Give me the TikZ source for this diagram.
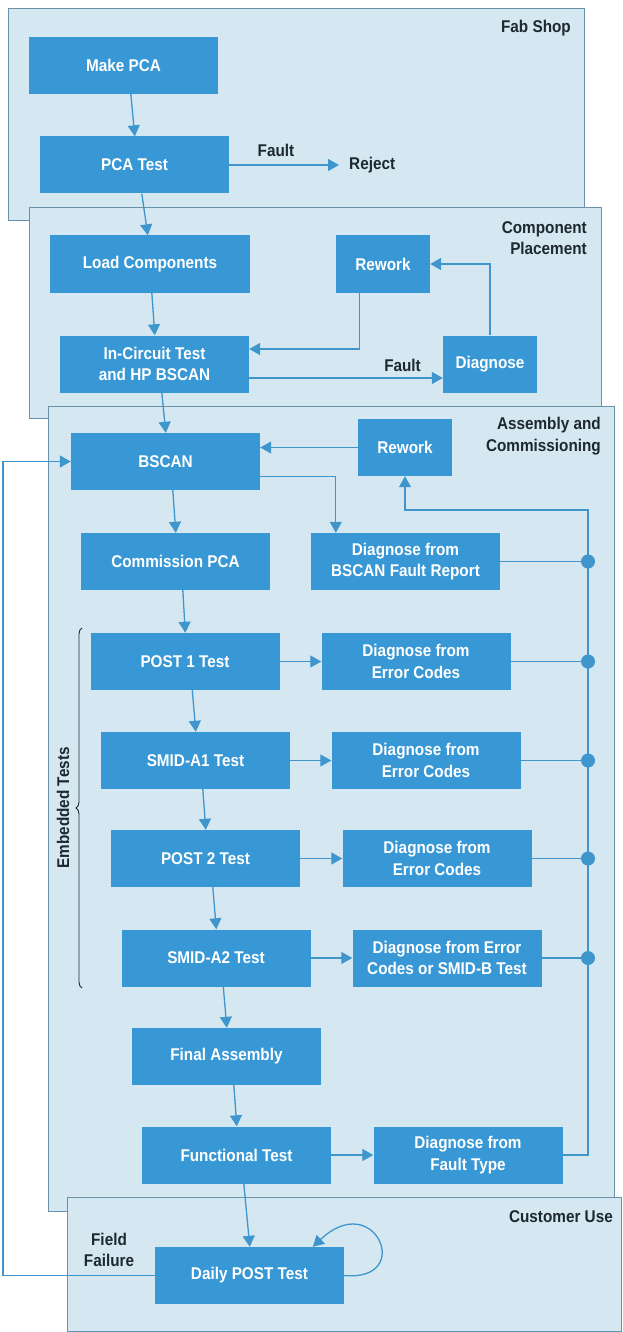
\documentclass[tikz,border=0pt]{standalone}
\usepackage{fontspec}
\setmainfont[FakeStretch=0.9]{Liberation Sans}
\usetikzlibrary{arrows.meta,decorations.pathreplacing}
\definecolor{panelfill}{RGB}{213,232,241}
\definecolor{panelline}{RGB}{105,145,170}
\definecolor{boxblue}{RGB}{56,152,214}
\definecolor{lineblue}{RGB}{62,150,205}
\definecolor{darktext}{RGB}{30,40,48}
\begin{document}
\begin{tikzpicture}[x=1pt,y=-1pt,
  panel/.style={draw=panelline,fill=panelfill,line width=0.9pt},
  box/.style={fill=boxblue,text=white,font=\fontsize{17}{21.5}\selectfont\bfseries,align=center,minimum width=189pt,minimum height=57pt,inner sep=0pt},
  smallbox/.style={box,minimum width=94pt},
  lbl/.style={text=darktext,font=\fontsize{17}{21.5}\selectfont\bfseries,inner sep=0pt},
  conn/.style={draw=lineblue,line width=1.3pt},
  arr/.style={conn,-{Triangle[length=11pt,width=12pt]}},
  dot/.style={circle,fill=lineblue,minimum size=14pt,inner sep=0pt}
]
\useasboundingbox[fill=white] (0,0) rectangle (622,1332);
% panels
\draw[panel] (8,8) rectangle (584,220);
\draw[panel] (29,207) rectangle (601,418);
\draw[panel] (48,406) rectangle (614,1211);
\draw[panel] (67,1197) rectangle (621.5,1331);
% panel labels
\node[lbl,anchor=east] (lfab) at (571,28) {Fab Shop};
\node[lbl,anchor=east,align=right] (lcomp) at (587,238) {Component\\Placement};
\node[lbl,anchor=east,align=right] (lasm) at (601,436) {Assembly and\\Commissioning};
\node[lbl,anchor=east] (lcust) at (613,1217) {Customer Use};
% boxes
\node[box] (make) at (123.5,65.5) {Make PCA};
\node[box] (pca) at (134.5,165) {PCA Test};
\node[lbl,anchor=west,inner xsep=10pt] (reject) at (339,165) {Reject};
\node[lbl] (fault1) at (276,150) {Fault};
\node[box,minimum width=200pt] (load) at (150,264) {Load Components};
\node[smallbox] (rwA) at (383,264) {Rework};
\node[box] (ict) at (154.5,364) {In-Circuit Test\\and HP BSCAN};
\node[smallbox] (diag) at (490,364) {Diagnose};
\node[lbl,anchor=east] (fault2) at (421,365) {Fault};
\node[box] (bscan) at (165.5,461.5) {BSCAN};
\node[smallbox] (rwB) at (405,447.5) {Rework};
\node[box] (comm) at (175.5,561.5) {Commission PCA};
\node[box] (dbscan) at (405.5,561.5) {Diagnose from\\BSCAN Fault Report};
\node[box] (post1) at (185,661.5) {POST 1 Test};
\node[box] (d1) at (416,661.5) {Diagnose from\\Error Codes};
\node[box] (smid1) at (195.5,760.5) {SMID-A1 Test};
\node[box] (d2) at (426,760.5) {Diagnose from\\Error Codes};
\node[box] (post2) at (205.5,858.5) {POST 2 Test};
\node[box] (d3) at (437,858.5) {Diagnose from\\Error Codes};
\node[box] (smid2) at (216,958) {SMID-A2 Test};
\node[box] (d4) at (447,958) {Diagnose from Error\\Codes or SMID-B Test};
\node[box] (final) at (226.5,1056.5) {Final Assembly};
\node[box] (func) at (236.5,1155) {Functional Test};
\node[box] (d5) at (468,1155) {Diagnose from\\Fault Type};
\node[box] (daily) at (249.5,1275.5) {Daily POST Test};
\node[lbl,align=center] (ff) at (109,1250) {Field\\Failure};
% brace
\draw[darktext,line width=0.9pt,decorate,decoration={brace,amplitude=6pt}] (82,988) -- (82,628);
\node[lbl,rotate=90] (emb) at (63,808) {Embedded Tests};
% vertical flow
\draw[arr] ([xshift=102pt]make.south west) -- ([xshift=95pt]pca.north west);
\draw[arr] ([xshift=102pt]pca.south west) -- ([xshift=98pt]load.north west);
\draw[arr] ([xshift=102pt]load.south west) -- ([xshift=95pt]ict.north west);
\draw[arr] ([xshift=102pt]ict.south west) -- ([xshift=95pt]bscan.north west);
\draw[arr] ([xshift=102pt]bscan.south west) -- ([xshift=95pt]comm.north west);
\draw[arr] ([xshift=102pt]comm.south west) -- ([xshift=95pt]post1.north west);
\draw[arr] ([xshift=102pt]post1.south west) -- ([xshift=95pt]smid1.north west);
\draw[arr] ([xshift=102pt]smid1.south west) -- ([xshift=95pt]post2.north west);
\draw[arr] ([xshift=102pt]post2.south west) -- ([xshift=95pt]smid2.north west);
\draw[arr] ([xshift=102pt]smid2.south west) -- ([xshift=95pt]final.north west);
\draw[arr] ([xshift=102pt]final.south west) -- ([xshift=95pt]func.north west);
\draw[arr] ([xshift=102pt]func.south west) -- ([xshift=95pt]daily.north west);
% fab shop
\draw[arr] (pca.east) -- (reject.west);
% component placement
\draw[arr] ([xshift=24pt]rwA.south west) |- ([yshift=15pt]ict.east);
\draw[arr] ([yshift=-14pt]ict.east) -- ([yshift=-14pt]diag.west);
\draw[arr] (diag.north) |- (rwA.east);
% assembly
\draw[arr] (rwB.west) -- (bscan.east |- rwB.west);
\draw[arr] ([yshift=-15pt]bscan.east) -| ([xshift=25pt]dbscan.north west);
\draw[arr] (post1.east) -- (d1.west);
\draw[arr] (smid1.east) -- (d2.west);
\draw[arr] (post2.east) -- (d3.west);
\draw[arr] (smid2.east) -- (d4.west);
\draw[arr] (func.east) -- (d5.west);
\coordinate (busTop) at (588,510);
\draw[arr] (d5.east) -| (busTop) -| (rwB.south);
\foreach \n in {dbscan,d1,d2,d3,d4}{
  \draw[conn] (\n.east) -- (\n.east -| busTop);
  \node[dot] at (\n.east -| busTop) {};
}
% customer use
\draw[arr] (daily.east) .. controls (415,1282) and (375,1188) .. ([xshift=158pt]daily.north west);
\coordinate (fbx) at (3,0);
\draw[arr] (daily.west) -- (daily.west -| fbx) |- (bscan.west);
\end{tikzpicture}
\end{document}
